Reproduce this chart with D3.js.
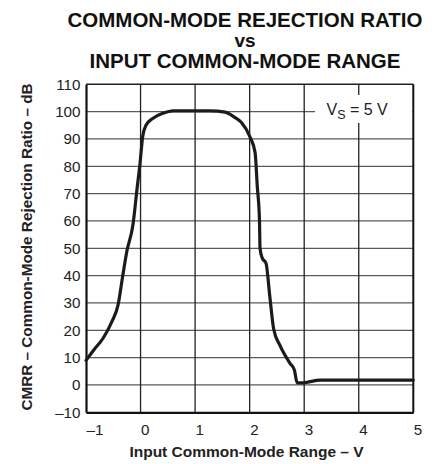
<!DOCTYPE html>
<html>
<head>
<meta charset="utf-8">
<script src="https://cdn.jsdelivr.net/npm/d3@7"></script>
<style>
  html, body { margin: 0; padding: 0; background: #fff; }
  svg { display: block; font-family: "Liberation Sans", Arial, Helvetica, sans-serif; }
</style>
</head>
<body>
<svg id="chart" width="436" height="464"></svg>
<script>
// Input common-mode voltage (V) and measured CMRR (dB), VS = 5 V
const vcm = [-1, -0.85, -0.69, -0.53, -0.41, -0.33, -0.25, -0.14, -0.06, -0.01, 0.04, 0.1, 0.23, 0.41, 0.6,
             1.27, 1.55, 1.72, 1.85, 2.0, 2.1, 2.14, 2.18, 2.19, 2.23, 2.3, 2.37, 2.44, 2.56, 2.74, 2.82,
             2.87, 2.98, 3.29, 5];
const cmrr = [9, 13, 17, 23, 29.5, 39.5, 49, 58.5, 72.5, 81, 91, 95, 97.6, 99.4, 100.3,
              100.3, 99.8, 98, 96, 91, 85, 72.6, 60.4, 50, 46.5, 44.5, 32.3, 20.5, 14.3, 7.9, 5.5,
              0.8, 0.8, 1.8, 1.8];

const xTicks = [-1, 0, 1, 2, 3, 4, 5];
const yTicks = [-10, 0, 10, 20, 30, 40, 50, 60, 70, 80, 90, 100, 110];
const titleLines = ["COMMON-MODE REJECTION RATIO", "vs", "INPUT COMMON-MODE RANGE"];

const svg = d3.select("#chart");
const plotL = 86, plotR = 413.3, plotT = 84.3, plotB = 412.3;

const x = d3.scaleLinear().domain([-1, 5]).range([plotL, plotR]);
const y = d3.scaleLinear().domain([-10, 110]).range([plotB, plotT]);

// Title
svg.append("g").selectAll("text").data(titleLines).join("text")
  .attr("x", 245)
  .attr("y", (d, i) => [27, 47, 68][i])
  .attr("text-anchor", "middle")
  .attr("font-weight", "bold")
  .attr("font-size", (d, i) => i === 1 ? 19 : 20.5)
  .attr("fill", "#111")
  .text(d => d);

// Grid
const grid = svg.append("g");
grid.selectAll("line.h").data(yTicks.slice(1, -1)).join("line")
  .attr("class", "h")
  .attr("x1", plotL).attr("x2", plotR)
  .attr("y1", d => y(d)).attr("y2", d => y(d))
  .attr("stroke", "#5a5a5a").attr("stroke-width", 1.3);
grid.selectAll("line.v").data(xTicks.slice(1, -1)).join("line")
  .attr("class", "v")
  .attr("x1", d => x(d)).attr("x2", d => x(d))
  .attr("y1", plotT).attr("y2", plotB)
  .attr("stroke", "#222").attr("stroke-width", 1.3);

// Condition label box
svg.append("rect")
  .attr("x", 315).attr("y", 95).attr("width", plotR - 1 - 315).attr("height", 28)
  .attr("fill", "#fff");
const cond = svg.append("text")
  .attr("x", 326.5).attr("y", 115)
  .attr("font-size", 16).attr("fill", "#222");
cond.append("tspan").text("V");
cond.append("tspan").attr("font-size", 12.5).attr("dy", 3.5).text("S");
cond.append("tspan").attr("dy", -3.5).text(" = 5 V");

// Frame
svg.append("line").attr("x1", plotL).attr("x2", plotR).attr("y1", plotT).attr("y2", plotT)
  .attr("stroke", "#222").attr("stroke-width", 1.5);
svg.append("line").attr("x1", plotR).attr("x2", plotR).attr("y1", plotT).attr("y2", plotB)
  .attr("stroke", "#111").attr("stroke-width", 2);

// Axes
const tickFmt = d => d < 0 ? "\u2013" + Math.abs(d) : d;
const xAxis = svg.append("g").attr("transform", `translate(0,${plotB})`)
  .call(d3.axisBottom(x).tickValues(xTicks).tickSize(0).tickFormat(tickFmt));
xAxis.select(".domain").attr("stroke", "#111").attr("stroke-width", 2.2);
xAxis.selectAll("text")
  .attr("text-anchor", "start").attr("dx", 0).attr("y", 23).attr("dy", 0)
  .attr("font-size", 15.2).attr("fill", "#222")
  .style("font-family", "'Liberation Sans', Arial, sans-serif");

const yAxis = svg.append("g").attr("transform", `translate(${plotL},0)`)
  .call(d3.axisLeft(y).tickValues(yTicks).tickSize(0).tickPadding(5.5).tickFormat(tickFmt));
yAxis.select(".domain").attr("stroke", "#111").attr("stroke-width", 2.2);
yAxis.selectAll("text")
  .attr("font-size", 15.2).attr("fill", "#222")
  .style("font-family", "'Liberation Sans', Arial, sans-serif");

// Axis titles
svg.append("text")
  .attr("x", 246.5).attr("y", 457)
  .attr("text-anchor", "middle").attr("font-weight", "bold").attr("font-size", 15.5)
  .attr("fill", "#222")
  .text("Input Common-Mode Range \u2013 V");
svg.append("text")
  .attr("transform", "translate(31.5,247) rotate(-90)")
  .attr("text-anchor", "middle").attr("font-weight", "bold").attr("font-size", 15.3)
  .attr("fill", "#222")
  .text("CMRR \u2013 Common-Mode Rejection Ratio \u2013 dB");

// CMRR curve
const pts = vcm.map((v, i) => [v, cmrr[i]]);
svg.append("path")
  .datum(pts)
  .attr("fill", "none")
  .attr("stroke", "#1e1a1b")
  .attr("stroke-width", 3.2)
  .attr("stroke-linejoin", "round")
  .attr("stroke-linecap", "round")
  .attr("d", d3.line().x(d => x(d[0])).y(d => y(d[1])).curve(d3.curveMonotoneX));
</script>
</body>
</html>
